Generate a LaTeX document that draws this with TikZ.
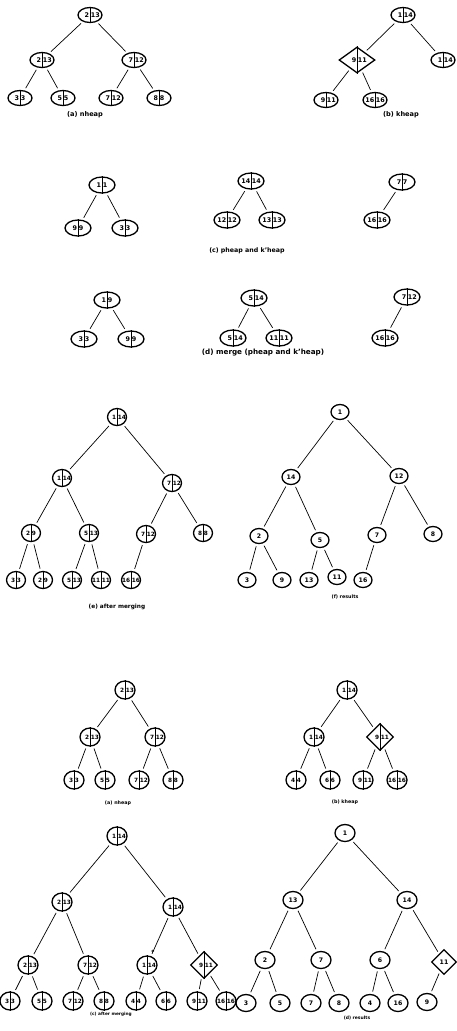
\documentclass[tikz,border=0pt]{standalone}
\usepackage{fontspec}
\setmainfont{DejaVu Sans}
\usetikzlibrary{shapes.geometric}
\newcommand\pnode[6]{%
  \node[#6] (#1) at (#2,#3) {};
  \draw[divider] (#1.north) -- (#1.south);
  \node[num, anchor=east] (#1-l) at (#1.center) {#4};
  \node[num, anchor=west] (#1-r) at (#1.center) {#5};
}
\newcommand\snode[5]{%
  \node[#5] (#1) at (#2,#3) {};
  \node[num] (#1-t) at (#1.center) {#4};
}
\begin{document}
\begin{tikzpicture}[x=1pt,y=-1pt,
  base/.style={draw=black, line width=1.3pt, inner sep=0pt},
  ellA/.style={base, ellipse, minimum width=24pt, minimum height=15pt},
  ellC/.style={base, ellipse, minimum width=26pt, minimum height=16pt},
  cirE/.style={base, ellipse, minimum width=19pt, minimum height=17pt},
  ellF/.style={base, ellipse, minimum width=18pt, minimum height=15pt},
  cirS/.style={base, ellipse, minimum width=20pt, minimum height=18pt},
  cirR/.style={base, ellipse, minimum width=20pt, minimum height=17pt},
  diaA/.style={base, diamond, minimum width=36pt, minimum height=26pt},
  diaS/.style={base, diamond, minimum width=27pt, minimum height=27pt},
  diaR/.style={base, diamond, minimum width=25pt, minimum height=25pt},
  num/.style={font=\fontsize{5.8}{6}\selectfont\bfseries, inner sep=0.6pt},
  edge/.style={line width=0.7pt, shorten <=2.5pt, shorten >=2.5pt},
  divider/.style={line width=0.8pt},
  cap/.style={inner sep=0pt, font=\fontsize{#1}{#1}\selectfont\bfseries}
]
\useasboundingbox (0,0) rectangle (457,1031);

\begin{scope}[num/.append style={font=\fontsize{6.4}{7}\selectfont\bfseries}]
% ---------- (a) nheap (top)
\pnode{a1}{90}{15}{2}{13}{ellA}
\pnode{a2}{42}{60}{2}{13}{ellA}
\pnode{a3}{134}{60}{7}{12}{ellA}
\pnode{a4}{20}{98}{3}{3}{ellA}
\pnode{a5}{63}{98}{5}{5}{ellA}
\pnode{a6}{111}{98}{7}{12}{ellA}
\pnode{a7}{159}{98}{8}{8}{ellA}
\draw[edge] (a1) -- (a2); \draw[edge] (a1) -- (a3);
\draw[edge] (a2) -- (a4); \draw[edge] (a2) -- (a5);
\draw[edge] (a3) -- (a6); \draw[edge] (a3) -- (a7);

% ---------- (b) kheap (top)
\pnode{b1}{403}{15}{1}{14}{ellA}
\pnode{b2}{357}{60}{9}{11}{diaA}
\pnode{b3}{443}{60}{1}{14}{ellA}
\pnode{b4}{326}{100}{9}{11}{ellA}
\pnode{b5}{375}{100}{16}{16}{ellA}
\draw[edge] (b1) -- (b2); \draw[edge] (b1) -- (b3);
\draw[edge] (b2) -- (b4); \draw[edge] (b2) -- (b5);

% ---------- (c) pheap and k'heap
\pnode{c1}{102}{185}{1}{1}{ellC}
\pnode{c2}{78}{228}{9}{9}{ellC}
\pnode{c3}{125}{228}{3}{3}{ellC}
\pnode{c4}{251}{181}{14}{14}{ellC}
\pnode{c5}{227}{220}{12}{12}{ellC}
\pnode{c6}{272}{220}{13}{13}{ellC}
\pnode{c7}{402}{182}{7}{7}{ellC}
\pnode{c8}{377}{220}{16}{16}{ellC}
\draw[edge] (c1) -- (c2); \draw[edge] (c1) -- (c3);
\draw[edge] (c4) -- (c5); \draw[edge] (c4) -- (c6);
\draw[edge] (c7) -- (c8);

% ---------- (d) merge
\pnode{d1}{107}{300}{1}{9}{ellC}
\pnode{d2}{84}{339}{3}{3}{ellC}
\pnode{d3}{131}{339}{9}{9}{ellC}
\pnode{d4}{254}{298}{5}{14}{ellC}
\pnode{d5}{233}{338}{5}{14}{ellC}
\pnode{d6}{279}{338}{11}{11}{ellC}
\pnode{d7}{407}{297}{7}{12}{ellC}
\pnode{d8}{385}{338}{16}{16}{ellC}
\draw[edge] (d1) -- (d2); \draw[edge] (d1) -- (d3);
\draw[edge] (d4) -- (d5); \draw[edge] (d4) -- (d6);
\draw[edge] (d7) -- (d8);
\end{scope}
\node[cap=6.6] (capa) at (85,115) {(a) nheap};
\node[cap=6.6] (capb) at (401,115) {(b) kheap};
\node[cap=6.3] (capc) at (247,251) {(c) pheap and k'heap};
\node[cap=7.2] (capd) at (263,353) {(d) merge (pheap and k'heap)};

% ---------- (e) after merging
\pnode{e1}{117}{417}{1}{14}{cirE}
\pnode{e2}{62}{478}{1}{14}{cirE}
\pnode{e3}{172}{483}{7}{12}{cirE}
\pnode{e4}{31}{533}{2}{9}{cirE}
\pnode{e5}{89}{533}{5}{13}{cirE}
\pnode{e6}{146}{534}{7}{12}{cirE}
\pnode{e7}{203}{533}{8}{8}{cirE}
\pnode{e8}{16}{580}{3}{3}{cirE}
\pnode{e9}{43}{580}{2}{9}{cirE}
\pnode{e10}{72}{580}{5}{13}{cirE}
\pnode{e11}{101}{580}{11}{11}{cirE}
\pnode{e12}{131}{580}{16}{16}{cirE}
\draw[edge] (e1) -- (e2); \draw[edge] (e1) -- (e3);
\draw[edge] (e2) -- (e4); \draw[edge] (e2) -- (e5);
\draw[edge] (e3) -- (e6); \draw[edge] (e3) -- (e7);
\draw[edge] (e4) -- (e8); \draw[edge] (e4) -- (e9);
\draw[edge] (e5) -- (e10); \draw[edge] (e5) -- (e11);
\draw[edge] (e6) -- (e12);
\node[cap=5.8] (cape) at (117,607) {(e) after merging};

% ---------- (f) results
\begin{scope}[num/.append style={font=\fontsize{6.2}{7}\selectfont\bfseries}]
\snode{f1}{340}{412}{1}{ellF}
\snode{f2}{291}{477}{14}{ellF}
\snode{f3}{399}{476}{12}{ellF}
\snode{f4}{259}{536}{2}{ellF}
\snode{f5}{320}{540}{5}{ellF}
\snode{f6}{377}{535}{7}{ellF}
\snode{f7}{433}{534}{8}{ellF}
\snode{f8}{247}{580}{3}{ellF}
\snode{f9}{282}{580}{9}{ellF}
\snode{f10}{309}{580}{13}{ellF}
\snode{f11}{337}{577}{11}{ellF}
\snode{f12}{363}{580}{16}{ellF}
\end{scope}
\draw[edge] (f1) -- (f2); \draw[edge] (f1) -- (f3);
\draw[edge] (f2) -- (f4); \draw[edge] (f2) -- (f5);
\draw[edge] (f3) -- (f6); \draw[edge] (f3) -- (f7);
\draw[edge] (f4) -- (f8); \draw[edge] (f4) -- (f9);
\draw[edge] (f5) -- (f10); \draw[edge] (f5) -- (f11);
\draw[edge] (f6) -- (f12);
\node[cap=4.8] (capf) at (345,597) {(f) results};

% ---------- second (a) nheap
\pnode{g1}{125}{690}{2}{13}{cirS}
\pnode{g2}{90}{737}{2}{13}{cirS}
\pnode{g3}{155}{737}{7}{12}{cirS}
\pnode{g4}{74}{780}{3}{3}{cirS}
\pnode{g5}{105}{780}{5}{5}{cirS}
\pnode{g6}{139}{780}{7}{12}{cirS}
\pnode{g7}{173}{780}{8}{8}{cirS}
\draw[edge] (g1) -- (g2); \draw[edge] (g1) -- (g3);
\draw[edge] (g2) -- (g4); \draw[edge] (g2) -- (g5);
\draw[edge] (g3) -- (g6); \draw[edge] (g3) -- (g7);
\node[cap=4.8] (capg) at (118,803) {(a) nheap};

% ---------- second (b) kheap
\pnode{h1}{347}{690}{1}{14}{cirS}
\pnode{h2}{314}{737}{1}{14}{cirS}
\pnode{h3}{380}{737}{9}{11}{diaS}
\pnode{h4}{296}{780}{4}{4}{cirS}
\pnode{h5}{330}{780}{6}{6}{cirS}
\pnode{h6}{363}{780}{9}{11}{cirS}
\pnode{h7}{397}{780}{16}{16}{cirS}
\draw[edge] (h1) -- (h2); \draw[edge] (h1) -- (h3);
\draw[edge] (h2) -- (h4); \draw[edge] (h2) -- (h5);
\draw[edge] (h3) -- (h6); \draw[edge] (h3) -- (h7);
\node[cap=4.8] (caph) at (345,802) {(b) kheap};

% ---------- second (c) after merging
\pnode{i1}{117}{836}{1}{14}{cirS}
\pnode{i2}{62}{902}{2}{13}{cirS}
\pnode{i3}{173}{907}{1}{14}{cirS}
\pnode{i4}{28}{965}{2}{13}{cirS}
\pnode{i5}{88}{965}{7}{12}{cirS}
\pnode{i6}{147}{965}{1}{14}{cirS}
\pnode{i7}{204}{965}{9}{11}{diaS}
\pnode{i8}{10}{1001}{3}{3}{cirS}
\pnode{i9}{42}{1001}{5}{5}{cirS}
\pnode{i10}{73}{1001}{7}{12}{cirS}
\pnode{i11}{104}{1001}{8}{8}{cirS}
\pnode{i12}{136}{1001}{4}{4}{cirS}
\pnode{i13}{166}{1001}{6}{6}{cirS}
\pnode{i14}{197}{1001}{9}{11}{cirS}
\pnode{i15}{226}{1001}{16}{16}{cirS}
\node[num] (istar) at (153,952) {*};
\draw[edge] (i1) -- (i2); \draw[edge] (i1) -- (i3);
\draw[edge] (i2) -- (i4); \draw[edge] (i2) -- (i5);
\draw[edge] (i3) -- (i6); \draw[edge] (i3) -- (i7);
\draw[edge] (i4) -- (i8); \draw[edge] (i4) -- (i9);
\draw[edge] (i5) -- (i10); \draw[edge] (i5) -- (i11);
\draw[edge] (i6) -- (i12); \draw[edge] (i6) -- (i13);
\draw[edge] (i7) -- (i14); \draw[edge] (i7) -- (i15);
\node[cap=4.3] (capi) at (111,1014) {(c) after merging};

% ---------- second (d) results
\begin{scope}[num/.append style={font=\fontsize{6.2}{7}\selectfont\bfseries}]
\snode{j1}{345}{833}{1}{cirR}
\snode{j2}{293}{900}{13}{cirR}
\snode{j3}{407}{900}{14}{cirR}
\snode{j4}{265}{960}{2}{cirR}
\snode{j5}{321}{960}{7}{cirR}
\snode{j6}{380}{960}{6}{cirR}
\snode{j7}{444}{962}{11}{diaR}
\snode{j8}{246}{1003}{3}{cirR}
\snode{j9}{280}{1003}{5}{cirR}
\snode{j10}{311}{1003}{7}{cirR}
\snode{j11}{339}{1003}{8}{cirR}
\snode{j12}{370}{1003}{4}{cirR}
\snode{j13}{398}{1003}{16}{cirR}
\snode{j14}{427}{1002}{9}{cirR}
\end{scope}
\draw[edge] (j1) -- (j2); \draw[edge] (j1) -- (j3);
\draw[edge] (j2) -- (j4); \draw[edge] (j2) -- (j5);
\draw[edge] (j3) -- (j6); \draw[edge] (j3) -- (j7);
\draw[edge] (j4) -- (j8); \draw[edge] (j4) -- (j9);
\draw[edge] (j5) -- (j10); \draw[edge] (j5) -- (j11);
\draw[edge] (j6) -- (j12); \draw[edge] (j6) -- (j13);
\draw[edge] (j7) -- (j14);
\node[cap=4.5] (capj) at (357,1018) {(d) results};
\end{tikzpicture}
\end{document}
